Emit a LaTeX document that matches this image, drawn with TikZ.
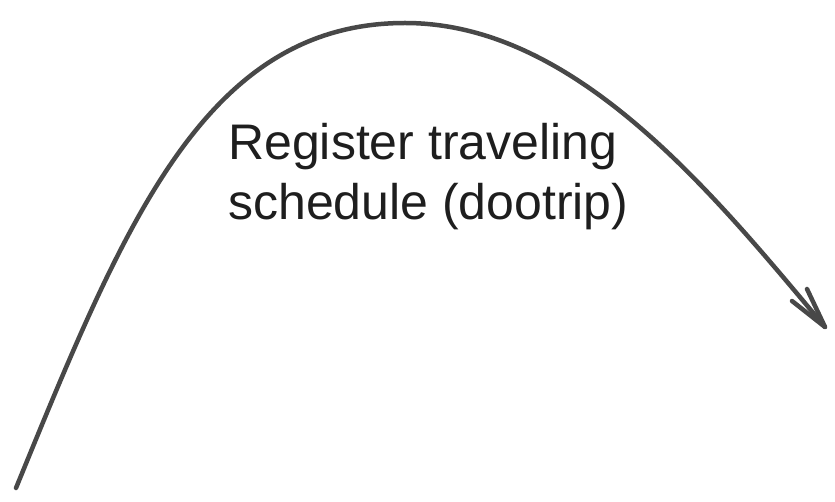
\documentclass[tikz,border=0pt]{standalone}
\usepackage{fontspec}
\setmainfont{Liberation Sans}
\definecolor{strokegray}{HTML}{484848}
\definecolor{inkdark}{HTML}{1E1E1E}
\tikzset{
  flowline/.style={draw=strokegray, line width=4.5pt, line cap=round, line join=round},
  labeltext/.style={text=inkdark, inner sep=0pt, font=\fontsize{50}{60}\selectfont}
}
\begin{document}
\begin{tikzpicture}[x=1pt, y=-1pt]
  \useasboundingbox (0,0) rectangle (835,502);
  \coordinate (start) at (16,488);
  \coordinate (peak) at (405,23);
  \coordinate (tip) at (825,327);
  \coordinate (barbA) at (792,301);
  \coordinate (barbB) at (807,289);
  \draw[flowline] (start) .. controls (124,224) and (205,23) .. (peak)
                          .. controls (575,23) and (712,192) .. (tip);
  \draw[flowline] (barbA) -- (tip) -- (barbB);
  \node[labeltext, anchor=base west] (line1) at (228,160) {Register traveling};
  \node[labeltext, anchor=base west] (line2) at (228,220) {schedule (dootrip)};
\end{tikzpicture}
\end{document}
